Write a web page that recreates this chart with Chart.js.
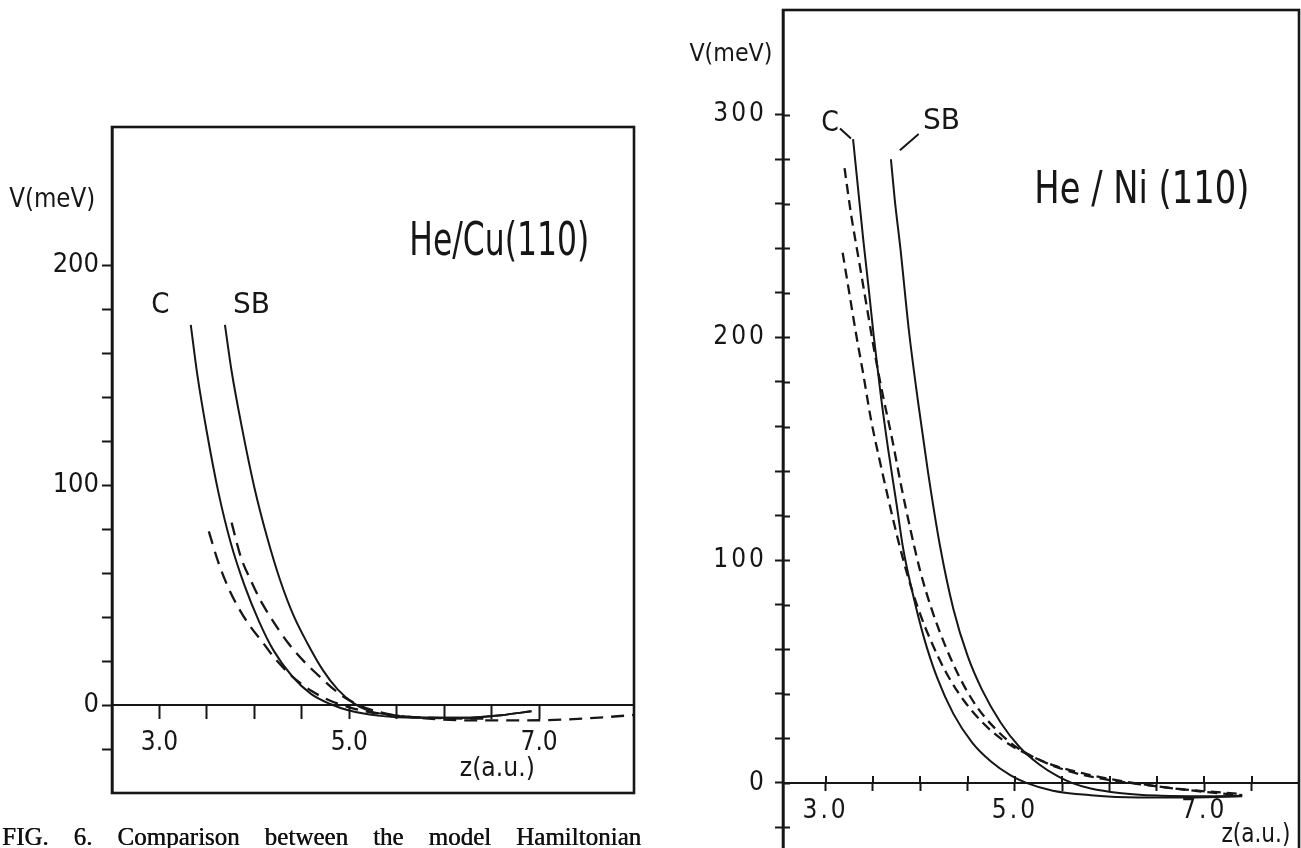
<!DOCTYPE html>
<html>
<head>
<meta charset="utf-8">
<title>He/Cu(110) and He/Ni(110) potentials</title>
<script src="https://cdn.jsdelivr.net/npm/chart.js@4.4.1/dist/chart.umd.min.js"></script>
<style>
  html, body { margin: 0; padding: 0; background: #fff; width: 1301px; height: 848px; overflow: hidden; position: relative; }
  #cu { position: absolute; left: 0; top: 0; }
  #ni { position: absolute; left: 650px; top: 0; }
  #caption {
    position: absolute; left: 2px; top: 824px; width: 639px;
    font: 25px "Liberation Serif", "DejaVu Serif", serif; line-height: 25px;
    color: #111; text-shadow: 0.5px 0 0 #111;
    text-align: justify; text-align-last: justify;
  }
</style>
</head>
<body>
<canvas id="cu" width="650" height="848"></canvas>
<canvas id="ni" width="651" height="900"></canvas>
<div id="caption">FIG. 6. Comparison between the model Hamiltonian</div>
<script>
// ---- He/Cu(110): z in a.u., V in meV ----
const cuTicksZ  = [3.0, 3.5, 4.0, 4.5, 5.0, 5.5, 6.0, 6.5, 7.0];
const cuLabelsZ = [3.0, 5.0, 7.0];
const cuTicksV  = [-20, 0, 20, 40, 60, 80, 100, 120, 140, 160, 180, 200];
const cuLabelsV = [0, 100, 200];

const cuZ_C  = [3.33, 3.40, 3.50, 3.62, 3.75, 3.90, 4.05, 4.20, 4.40, 4.60, 4.80, 5.00, 5.30, 5.70, 6.20, 6.60, 6.92];
const cuV_C  = [173, 150, 124, 97, 74, 54, 38, 25, 13, 5, 0.5, -2.5, -4.8, -5.8, -5.8, -4.6, -2.8];
const cuZ_SB = [3.69, 3.76, 3.87, 4.00, 4.13, 4.27, 4.41, 4.56, 4.72, 4.88, 5.04, 5.20, 5.45, 5.75, 6.20, 6.60, 6.92];
const cuV_SB = [173, 152, 126, 99, 77, 57, 41, 28, 16, 7, 1, -2.5, -4.6, -5.6, -5.8, -4.6, -2.8];
const cuZ_D1 = [3.52, 3.62, 3.73, 3.85, 3.97, 4.08, 4.22, 4.40, 4.60, 4.80, 5.00, 5.25, 5.60, 6.00, 6.50];
const cuV_D1 = [79, 65, 53, 43, 35, 29, 21, 13, 6.5, 2, -1, -3.5, -5.2, -6, -6.2];
const cuZ_D2 = [3.76, 3.86, 3.96, 4.06, 4.20, 4.36, 4.52, 4.70, 4.90, 5.10, 5.40, 5.80, 6.30, 6.80, 7.30, 7.70, 8.00];
const cuV_D2 = [83, 67, 57, 48, 38, 28, 20, 12.5, 5, 0, -4, -6, -7, -7, -6.5, -5.5, -4.5];

// ---- He/Ni(110) ----
const niTicksZ  = [3.0, 3.5, 4.0, 4.5, 5.0, 5.5, 6.0, 6.5, 7.0, 7.5];
const niLabelsZ = [3.0, 5.0, 7.0];
const niTicksV  = [-20, 0, 20, 40, 60, 80, 100, 120, 140, 160, 180, 200, 220, 240, 260, 280, 300];
const niLabelsV = [0, 100, 200, 300];

const niZ_C  = [3.29, 3.34, 3.40, 3.46, 3.51, 3.58, 3.66, 3.75, 3.82, 3.92, 4.04, 4.18, 4.35, 4.55, 4.75, 4.95, 5.12, 5.40, 5.80, 6.30, 6.90, 7.40];
const niV_C  = [289, 268, 243, 220, 200, 175, 150, 125, 105, 85, 65, 47, 31, 18, 9.5, 3.5, 0, -3.5, -5.5, -6.5, -6.5, -6];
const niZ_SB = [3.69, 3.73, 3.79, 3.88, 3.98, 4.08, 4.21, 4.35, 4.50, 4.65, 4.85, 5.05, 5.25, 5.45, 5.60, 5.80, 6.10, 6.50, 7.00, 7.40];
const niV_SB = [280, 262, 240, 203, 170, 140, 106, 78, 57, 42, 27, 16, 8.5, 3, 0, -2.5, -4.5, -5.7, -6, -5.8];
const niZ_DA = [3.20, 3.27, 3.35, 3.43, 3.51, 3.60, 3.70, 3.80, 3.90, 4.00, 4.12, 4.26, 4.42, 4.60, 4.80, 5.00, 5.25, 5.55, 5.90, 6.30, 6.80, 7.40];
const niV_DA = [276, 255, 235, 215, 195, 175, 155, 133, 113, 95, 78, 62, 47, 34, 24, 16.5, 10.5, 5.5, 2, -0.5, -3, -5];
const niZ_DB = [3.18, 3.25, 3.32, 3.40, 3.48, 3.57, 3.66, 3.76, 3.86, 3.98, 4.12, 4.28, 4.46, 4.66, 4.88, 5.10, 5.40, 5.75, 6.10, 6.50, 7.00, 7.40];
const niV_DB = [238, 220, 202, 183, 163, 145, 128, 110, 94, 78, 63, 49, 37, 27, 19, 13.5, 8, 4, 1, -1.5, -4, -5.5];

const FONT = '"DejaVu Sans Condensed", "Liberation Sans Narrow", "DejaVu Sans", sans-serif';
const INK = '#161616';

function curve(z, v, dash) {
  return {
    data: z.map((x, i) => ({ x: x, y: v[i] })),
    showLine: true, fill: false, pointRadius: 0,
    borderColor: INK, borderWidth: dash ? 2.3 : 2,
    borderDash: dash || [], borderCapStyle: 'butt',
    cubicInterpolationMode: 'monotone'
  };
}

// closed box round the plotting area
const frame = {
  id: 'frame',
  afterDraw(chart) {
    const { ctx, chartArea: a } = chart;
    ctx.save();
    ctx.strokeStyle = INK;
    ctx.lineWidth = 2.6;
    ctx.strokeRect(a.left, a.top, a.right - a.left, a.bottom - a.top);
    ctx.restore();
  }
};

// text labels and leader strokes placed in data coordinates
const notes = {
  id: 'notes',
  afterDraw(chart, args, opts) {
    const { ctx } = chart;
    const x = chart.scales.x, y = chart.scales.y;
    ctx.save();
    ctx.letterSpacing = '0px';
    ctx.fillStyle = INK;
    ctx.strokeStyle = INK;
    ctx.textAlign = 'center';
    ctx.textBaseline = 'middle';
    for (const n of opts.items || []) {
      ctx.font = n.size + 'px ' + FONT;
      const w = ctx.measureText(n.text).width;
      const k = n.width ? n.width / w : 1;
      ctx.save();
      ctx.translate(x.getPixelForValue(n.z), y.getPixelForValue(n.v));
      ctx.scale(k, 1);
      ctx.fillText(n.text, 0, 0);
      ctx.restore();
    }
    ctx.lineWidth = 2;
    for (const l of opts.leaders || []) {
      ctx.beginPath();
      ctx.moveTo(x.getPixelForValue(l[0]), y.getPixelForValue(l[1]));
      ctx.lineTo(x.getPixelForValue(l[2]), y.getPixelForValue(l[3]));
      ctx.stroke();
    }
    ctx.restore();
  }
};

// second half of the crossing tick marks (inside the box)
const crossTicks = {
  id: 'crossTicks',
  afterDraw(chart, args, opts) {
    const { ctx, chartArea: a } = chart;
    const x = chart.scales.x, y = chart.scales.y;
    const y0 = y.getPixelForValue(0);
    ctx.save();
    ctx.strokeStyle = INK;
    ctx.lineWidth = 2;
    ctx.beginPath();
    for (const t of y.ticks) {
      const p = Math.round(y.getPixelForValue(t.value)) + 0.5;
      ctx.moveTo(a.left, p); ctx.lineTo(a.left + opts.len, p);
    }
    for (const t of x.ticks) {
      const p = Math.round(x.getPixelForValue(t.value));
      ctx.moveTo(p, y0); ctx.lineTo(p, y0 - opts.len);
    }
    ctx.stroke();
    ctx.restore();
  }
};

// wider spacing of the tick digits on the Ni panel
const spacedDigits = {
  id: 'spacedDigits',
  beforeDraw(chart, args, opts) { chart.ctx.letterSpacing = opts.spacing; }
};

Chart.defaults.font.family = FONT;
Chart.defaults.color = INK;

function panelOptions(cfg) {
  return {
    responsive: false,
    animation: false,
    events: [],
    layout: { padding: cfg.padding },
    plugins: {
      legend: { display: false },
      tooltip: { enabled: false },
      notes: cfg.notes,
      crossTicks: { len: cfg.innerTick || 0 },
      spacedDigits: { spacing: cfg.spacing || '0px' }
    },
    scales: {
      x: {
        type: 'linear', min: cfg.zMin, max: 8.0, position: { y: 0 },
        afterBuildTicks: s => { s.ticks = cfg.ticksZ.map(value => ({ value })); },
        afterFit: s => { s.paddingLeft = 0; s.paddingRight = 0; },
        grid: { drawOnChartArea: false, drawTicks: true, tickLength: cfg.xTick, tickWidth: 2, tickColor: INK },
        border: { display: true, width: 2, color: INK },
        ticks: {
          autoSkip: false, maxRotation: 0, padding: cfg.xPad, color: INK,
          font: { size: cfg.xFont, family: FONT },
          callback: v => cfg.labelsZ.includes(v) ? v.toFixed(1) : ''
        }
      },
      y: {
        type: 'linear', min: -40, max: cfg.vMax, position: 'left',
        afterFit: s => { s.width = cfg.yWidth; s.paddingTop = 0; s.paddingBottom = 0; },
        afterBuildTicks: s => { s.ticks = cfg.ticksV.map(value => ({ value })); },
        grid: { drawOnChartArea: false, drawTicks: true, tickLength: cfg.yTick, tickWidth: 2, tickColor: INK },
        border: { display: true, width: 2.6, color: INK },
        ticks: {
          autoSkip: false, padding: cfg.yPad, color: INK,
          font: { size: cfg.yFont, family: FONT },
          callback: v => cfg.labelsV.includes(v) ? String(v) : ''
        }
      }
    }
  };
}

new Chart(document.getElementById('cu'), {
  type: 'scatter',
  data: { datasets: [
    curve(cuZ_C, cuV_C),
    curve(cuZ_SB, cuV_SB),
    curve(cuZ_D1, cuV_D1, [13, 8]),
    curve(cuZ_D2, cuV_D2, [13, 8])
  ] },
  options: panelOptions({
    padding: { top: 127, right: 16, bottom: 55, left: 0 },
    zMin: 2.5, vMax: 263, yWidth: 112,
    ticksZ: cuTicksZ, labelsZ: cuLabelsZ, ticksV: cuTicksV, labelsV: cuLabelsV,
    xTick: 13, xPad: 10, xFont: 26,
    yTick: 10, yPad: 3, yFont: 27,
    notes: {
      items: [
        { text: 'V(meV)', z: 1.87, v: 230, size: 27, width: 86 },
        { text: 'C', z: 3.01, v: 182, size: 29 },
        { text: 'SB', z: 3.97, v: 182, size: 29, width: 37 },
        { text: 'He/Cu(110)', z: 6.58, v: 210, size: 46, width: 180 },
        { text: 'z(a.u.)', z: 6.56, v: -29, size: 26, width: 75 }
      ]
    }
  }),
  plugins: [frame, notes]
});

new Chart(document.getElementById('ni'), {
  type: 'scatter',
  data: { datasets: [
    curve(niZ_C, niV_C),
    curve(niZ_SB, niV_SB),
    curve(niZ_DA, niV_DA, [10, 6]),
    curve(niZ_DB, niV_DB, [10, 6])
  ] },
  options: panelOptions({
    padding: { top: 10, right: 2, bottom: 28, left: 0 },
    zMin: 2.55, vMax: 347, yWidth: 133,
    ticksZ: niTicksZ, labelsZ: niLabelsZ, ticksV: niTicksV, labelsV: niLabelsV,
    xTick: 7, xPad: 6, xFont: 26,
    yTick: 8, yPad: 8, yFont: 26,
    innerTick: 7, spacing: '3px',
    notes: {
      items: [
        { text: 'V(meV)', z: 2.00, v: 327, size: 25, width: 83 },
        { text: 'C', z: 3.046, v: 296, size: 28 },
        { text: 'SB', z: 4.224, v: 297, size: 29, width: 37 },
        { text: 'He / Ni (110)', z: 6.34, v: 265.6, size: 45, width: 215 },
        { text: 'z(a.u.)', z: 7.545, v: -23.3, size: 26, width: 69 }
      ],
      leaders: [
        [3.152, 293.8, 3.268, 289.3],
        [3.983, 291.3, 3.785, 284.0]
      ]
    }
  }),
  plugins: [frame, notes, crossTicks, spacedDigits]
});
</script>
</body>
</html>
